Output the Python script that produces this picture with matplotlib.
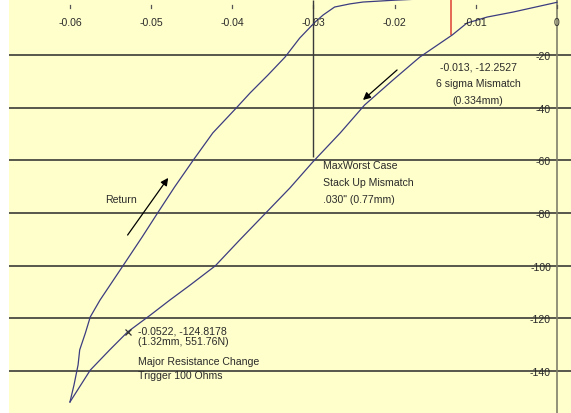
import matplotlib
matplotlib.use("Agg")
import matplotlib.pyplot as plt
from matplotlib import font_manager
import matplotlib.transforms as mtransforms

# ---- data ----
load_x = [0.0, -0.0054, -0.0086, -0.0111, -0.0129, -0.0169, -0.0202, -0.0237, -0.0267,
          -0.0301, -0.0329, -0.0360, -0.0391, -0.0421, -0.0452, -0.0477, -0.0501,
          -0.0529, -0.0551, -0.0575, -0.0600]
load_y = [0.0, -3.7, -5.6, -7.9, -12.4, -20.8, -29.5, -39.0, -49.6,
          -60.7, -70.5, -80.4, -90.3, -100.1, -107.4, -113.1, -118.8,
          -125.2, -132.0, -139.7, -151.8]
ret_x = [-0.0600, -0.0595, -0.0590, -0.0588, -0.0581, -0.0575, -0.0563, -0.0548, -0.0530,
         -0.0511, -0.0492, -0.0471, -0.0448, -0.0424, -0.0395, -0.0378, -0.0356,
         -0.0335, -0.0317, -0.0298, -0.0288, -0.0274, -0.0255, -0.0239, -0.0200, -0.0150]
ret_y = [-151.8, -145.3, -137.7, -132.0, -125.6, -119.5, -113.1, -106.2, -97.9,
         -89.1, -80.0, -70.1, -59.9, -49.6, -40.1, -34.4, -27.6,
         -20.8, -13.6, -7.5, -4.8, -1.8, -0.6, 0.1, 0.8, 1.5]
x_ticks = [-0.06, -0.05, -0.04, -0.03, -0.02, -0.01, 0]
x_tick_labels = ["-0.06", "-0.05", "-0.04", "-0.03", "-0.02", "-0.01", "0"]
y_ticks = [-20, -40, -60, -80, -100, -120, -140]
y_tick_labels = ["-20", "-40", "-60", "-80", "-100", "-120", "-140"]
sigma_pt = (-0.013, -12.2527)
worst_x, worst_y = -0.03, -58.8
trigger_pt = (-0.0529, -125.2)

# ---- fonts ----
names = {f.name for f in font_manager.fontManager.ttflist}
if "Liberation Sans Narrow" in names:
    FAM, FS = "Liberation Sans Narrow", 8.8
else:
    FAM, FS = "Liberation Sans", 7.6
plt.rcParams["font.family"] = [FAM, "DejaVu Sans"]

BG = "#FFFFCC"
CURVE = "#3c3c80"
TXT = "#2a2a2a"

fig = plt.figure(figsize=(5.71, 4.13), dpi=100)
ax = fig.add_axes([9 / 571, 0, 562 / 571, 1])
ax.set_facecolor(BG)
ax.set_xlim(-0.06751, 0.001725)
ax.set_ylim(-155.98, 0.87)
for s in ax.spines.values():
    s.set_visible(False)
ax.set_xticks([])
ax.set_yticks([])

# grid lines
for yv in y_ticks:
    ax.axhline(yv, color="#2a2a2a", lw=1.1, zorder=1)
# y axis line at x=0
ax.axvline(0, color="#7f7f6a", lw=1.2, zorder=1)

# x tick marks and labels (drawn inside, below the top axis)
tr = mtransforms.blended_transform_factory(ax.transData, ax.transAxes)
for xv, lab in zip(x_ticks, x_tick_labels):
    ax.plot([xv, xv], [1 - 5 / 413, 1 - 8 / 413], color="#555555", lw=0.9,
            transform=tr, zorder=2)
    ax.text(xv, 1 - 23 / 413, lab, transform=tr, ha="center", va="center",
            fontsize=FS, color=TXT, zorder=4)
# y tick labels to the left of the axis line
for yv, lab in zip(y_ticks, y_tick_labels):
    ax.text(-0.00074, yv - 0.8, lab, ha="right", va="center", fontsize=FS,
            color=TXT, zorder=4)

# curves
ax.plot(load_x, load_y, color=CURVE, lw=0.9, zorder=3)
ax.plot(ret_x, ret_y, color=CURVE, lw=0.9, zorder=3)

# reference lines
ax.vlines(sigma_pt[0], sigma_pt[1], 1.0, color="#e05040", lw=1.2, zorder=2)
ax.vlines(worst_x, worst_y, 1.0, color="#3a3a3a", lw=1.0, zorder=2)

# marker
ax.plot([trigger_pt[0]], [trigger_pt[1]], marker="x", ms=4.5, mew=0.9,
        color="#333333", zorder=4)

# arrows
ax.annotate("", xy=(-0.0479, -66.7), xytext=(-0.0529, -88.4),
            arrowprops=dict(arrowstyle="-|>", color="black", lw=0.9,
                            mutation_scale=11, shrinkA=0, shrinkB=0))
ax.annotate("", xy=(-0.0239, -37.1), xytext=(-0.0197, -25.7),
            arrowprops=dict(arrowstyle="-|>", color="black", lw=0.9,
                            mutation_scale=11, shrinkA=0, shrinkB=0))

# annotations
ax.text(-0.0537, -75.1, "Return", ha="center", va="center", fontsize=FS, color=TXT)
ax.text(-0.00973, -31.0, "-0.013, -12.2527\n6 sigma Mismatch\n(0.334mm)",
        ha="center", va="center", multialignment="center", fontsize=FS,
        color=TXT, linespacing=1.85)
ax.text(-0.02883, -68.6, "MaxWorst Case\nStack Up Mismatch\n.030\" (0.77mm)",
        ha="left", va="center", fontsize=FS, color=TXT, linespacing=1.85)
ax.text(-0.05162, -127.1, "-0.0522, -124.8178\n(1.32mm, 551.76N)",
        ha="left", va="center", fontsize=FS, color=TXT, linespacing=1.0)
ax.text(-0.05162, -139.3, "Major Resistance Change\nTrigger 100 Ohms",
        ha="left", va="center", fontsize=FS, color=TXT, linespacing=1.6)

fig.savefig("out.png", dpi=100, facecolor="white")
